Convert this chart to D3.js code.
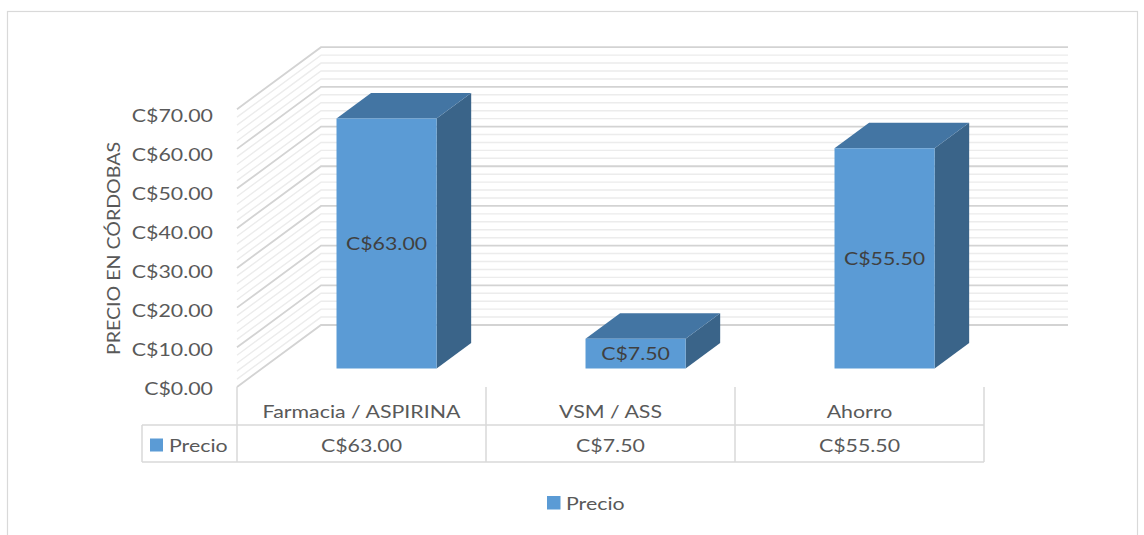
<!DOCTYPE html>
<html>
<head>
<meta charset="utf-8">
<script src="https://cdn.jsdelivr.net/npm/d3@7"></script>
<style>
  html, body { margin: 0; padding: 0; background: #ffffff; }
  svg { display: block; }
  text { font-family: Lato, "Open Sans", sans-serif; }
</style>
</head>
<body>
<svg id="chart" width="1144" height="535"></svg>
<script>
// ---------- data ----------
const categories = ["Farmacia / ASPIRINA", "VSM / ASS", "Ahorro"];
const seriesName = "Precio";
const values = [63.00, 7.50, 55.50];
const yTicks = [0, 10, 20, 30, 40, 50, 60, 70];
const yMinorStep = 2;
const yMax = 70;

// ---------- helpers ----------
const fmt = v => "C$" + d3.format(",.2f")(v);
const svg = d3.select("#chart");
const SX = 1.22;        // horizontal glyph stretch
const FS = 17.5;        // font size
const textGray = "#595959";

function label(g, x, y, str, anchor, color, rotate, sx) {
  const s = sx || SX;
  const tr = rotate ? `translate(${x},${y}) rotate(${rotate}) scale(${s},1)` : `translate(${x},${y}) scale(${s},1)`;
  return g.append("text")
    .attr("transform", tr)
    .attr("text-anchor", anchor || "middle")
    .attr("fill", color || textGray)
    .attr("font-size", FS)
    .text(str);
}

// ---------- geometry ----------
const plotLeft = 237, plotRight = 984;
const floorFrontY = 387;
const DEPTH = 62;                 // vertical offset front->back wall
const K = 84 / 62;                // horizontal shift per unit of depth
const barZ0 = 18.5, barZ1 = 44;   // bar depth span

const x = d3.scaleBand().domain(categories).range([plotLeft, plotRight]);
const y = d3.scaleLinear().domain([0, yMax]).range([floorFrontY, floorFrontY - 277.8]);
const yLab = d3.scaleLinear().domain([0, yMax]).range([395, 395 - 70 * 3.9]);
const P = (px, v, z) => [px + z * K, y(v) - z];

// outer frame
svg.append("rect").attr("x", 7.5).attr("y", 11.5).attr("width", 1130).attr("height", 540)
  .attr("fill", "none").attr("stroke", "#d9d9d9").attr("stroke-width", 1.2);

// ---------- walls gridlines ----------
const gridVals = d3.range(0, yMax + 0.001, yMinorStep);
const grid = svg.append("g");
gridVals.forEach(v => {
  const major = Math.abs(v % 10) < 1e-6;
  const col = major ? "#d3d3d3" : "#ececec";
  const w = major ? 1.8 : 1.4;
  const a = P(plotLeft, v, 0), b = P(plotLeft, v, DEPTH), c = P(plotRight, v, DEPTH);
  grid.append("path")
    .attr("d", `M${a[0]},${a[1]}L${b[0]},${b[1]}L${c[0]},${c[1]}`)
    .attr("fill", "none").attr("stroke", col).attr("stroke-width", w);
});

// ---------- bars ----------
const barW = x.bandwidth() * 0.402;
const bars = svg.append("g");
categories.forEach((cat, i) => {
  const v = values[i];
  const x0 = x(cat) + (x.bandwidth() - barW) / 2;
  const x1 = x0 + barW;
  const fBL = P(x0, 0, barZ0), fBR = P(x1, 0, barZ0), fTL = P(x0, v, barZ0), fTR = P(x1, v, barZ0);
  const bTL = P(x0, v, barZ1), bTR = P(x1, v, barZ1), bBR = P(x1, 0, barZ1);
  const poly = pts => "M" + pts.map(p => p.join(",")).join("L") + "Z";
  bars.append("path").attr("d", poly([fBR, fTR, bTR, bBR])).attr("fill", "#3a6489");
  bars.append("path").attr("d", poly([fTL, fTR, bTR, bTL])).attr("fill", "#4375a3");
  bars.append("path").attr("d", poly([fBL, fBR, fTR, fTL])).attr("fill", "#5b9bd5");
  label(bars, (fBL[0] + fBR[0]) / 2, (fBL[1] + fTL[1]) / 2 + 6.3, fmt(v), "middle", "#404040");
});

// ---------- y axis labels ----------
const yAxisG = svg.append("g");
yTicks.forEach(t => label(yAxisG, 213, yLab(t), fmt(t), "end"));
label(yAxisG, 120, 248.5, "PRECIO EN CÓRDOBAS", "middle", textGray, -90, 1.12);

// ---------- data table ----------
const tbl = svg.append("g");
const lineCol = "#d9d9d9";
const rowTop = 387, rowMid = 425, rowBot = 462, legLeft = 142;
const ln = (x1, y1, x2, y2) => tbl.append("line").attr("x1", x1).attr("y1", y1).attr("x2", x2).attr("y2", y2)
  .attr("stroke", lineCol).attr("stroke-width", 1.5);
[plotLeft, ...categories.map(c => x(c) + x.bandwidth())].forEach(xx => ln(xx, rowTop, xx, rowBot));
ln(legLeft, rowMid, plotRight, rowMid);
ln(legLeft, rowBot, plotRight, rowBot);
ln(legLeft, rowMid, legLeft, rowBot);
categories.forEach((c, i) => {
  const cx = x(c) + x.bandwidth() / 2;
  label(tbl, cx, 417.5, c, "middle");
  label(tbl, cx, 451.7, fmt(values[i]), "middle");
});
tbl.append("rect").attr("x", 150).attr("y", 438.5).attr("width", 13).attr("height", 13).attr("fill", "#5b9bd5");
label(tbl, 169, 451.7, seriesName, "start");

// ---------- legend ----------
const leg = svg.append("g");
leg.append("rect").attr("x", 547).attr("y", 496).attr("width", 13.5).attr("height", 13.5).attr("fill", "#5b9bd5");
label(leg, 566, 509.5, seriesName, "start");
</script>
</body>
</html>
